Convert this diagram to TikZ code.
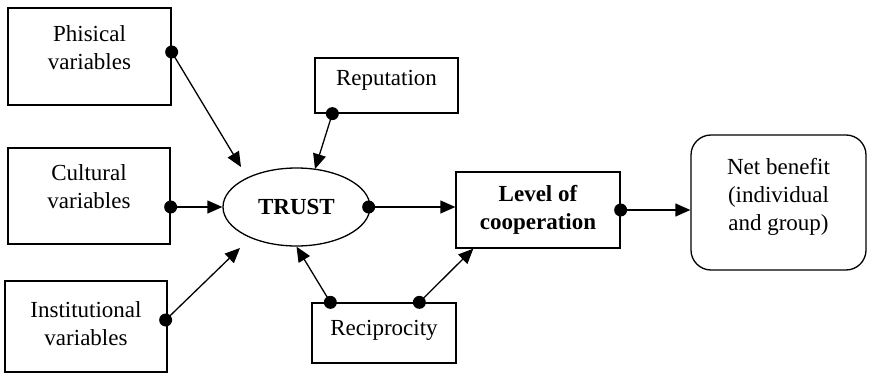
\documentclass[tikz,border=0pt]{standalone}
\usepackage{fontspec}
\setmainfont{Liberation Serif}
\usetikzlibrary{arrows.meta,shapes.geometric,calc}

\begin{document}
\begin{tikzpicture}[x=1pt,y=-1pt,
  box/.style={draw,line width=1.3pt,inner sep=0pt},
  lbl/.style={align=center,inner sep=0pt,font=\fontsize{23}{28}\selectfont},
  dot/.style={circle,fill,inner sep=0pt,minimum size=13pt},
  link/.style={line width=1.3pt,-{Triangle[length=15pt,width=13pt]}}]
\useasboundingbox (0,0) rectangle (873,377);

% input boxes on the left
\node[box,minimum width=163pt,minimum height=97pt] (phys) at (89.5,56.5) {};
\node[lbl] (physt) at (89.5,48) {Phisical\\variables};
\node[box,minimum width=162pt,minimum height=96pt] (cult) at (89,196) {};
\node[lbl] (cultt) at (89,187) {Cultural\\variables};
\node[box,minimum width=162pt,minimum height=91pt] (inst) at (86,326.5) {};
\node[lbl] (instt) at (86,324) {Institutional\\variables};

% central trust ellipse and its neighbours
\node[draw,ellipse,line width=1.3pt,minimum width=147pt,minimum height=78pt,inner sep=0pt,
      font=\fontsize{23}{28}\selectfont\bfseries] (trust) at (296.5,207) {TRUST};
\node[box,minimum width=143pt,minimum height=55pt] (rep) at (386.5,85.5) {};
\node[lbl] (rept) at (386.5,80) {Reputation};
\node[box,minimum width=144pt,minimum height=60pt] (recip) at (384,333) {};
\node[lbl] (recipt) at (384,330) {Reciprocity};

% outcomes
\node[box,minimum width=164pt,minimum height=76pt,lbl,font=\fontsize{23}{28}\selectfont\bfseries]
      (level) at (538,210) {Level of\\cooperation};
\node[box,rounded corners=20pt,minimum width=175pt,minimum height=135pt] (net) at (778.5,202.5) {};
\node[lbl] (nett) at (778.5,197) {Net benefit\\(individual\\and group)};

% connector origins
\node[dot] (dphys) at ($(phys.east)+(0,-4.5)$) {};
\node[dot] (dcult) at ($(cult.east)+(0,11)$) {};
\node[dot] (dinst) at ($(inst.east)+(-2,-6.5)$) {};
\node[dot] (drep) at ($(rep.south west)+(18,0)$) {};
\node[dot] (dtrust) at ($(trust.east)+(-2,0)$) {};
\node[dot] (dlevel) at (level.east) {};
\node[dot] (drecA) at ($(recip.north west)+(19,0)$) {};
\node[dot] (drecB) at ($(recip.north west)+(108,0)$) {};

% arrow tips that stop short of the ellipse
\coordinate (tphys) at (241,167);
\coordinate (tinst) at (240,248);
\coordinate (trep) at (315,169);

% connectors
\draw[link] (dphys.center) -- (tphys);
\draw[link] (dcult.center) -- (trust.west);
\draw[link] (dinst.center) -- (tinst);
\draw[link] (drep.center) -- (trep);
\draw[link] (dtrust.center) -- (level.west |- dtrust);
\draw[link] (dlevel.center) -- (net.west |- dlevel);
\draw[link] (drecA.center) -- (trust.south);
\draw[link] (drecB.center) -- ($(level.south west)+(18,0)$);
\end{tikzpicture}
\end{document}
